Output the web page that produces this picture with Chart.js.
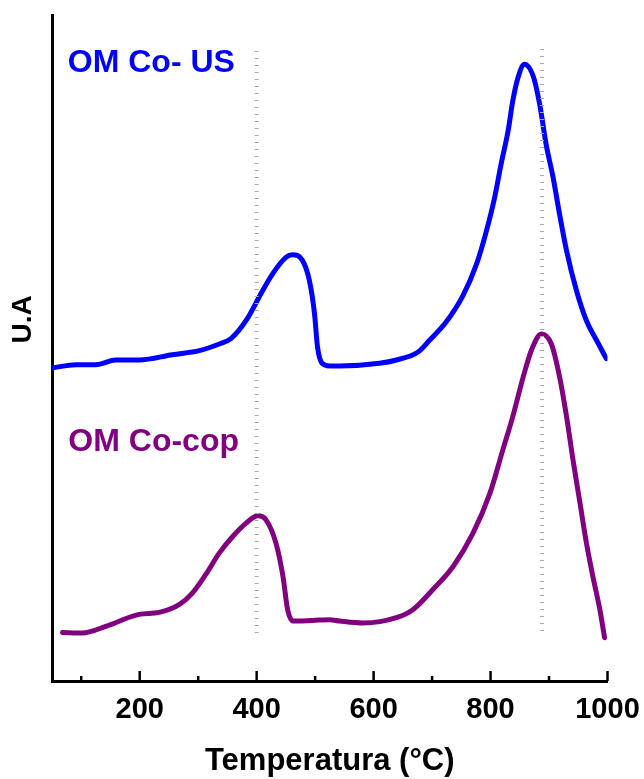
<!DOCTYPE html>
<html>
<head>
<meta charset="utf-8">
<script src="https://cdn.jsdelivr.net/npm/chart.js@4.4.1/dist/chart.umd.min.js"></script>
<style>
  html, body { margin: 0; padding: 0; background: #fff; }
  #box { width: 644px; height: 779px; }
</style>
</head>
<body>
<div id="box"><canvas id="grafico"></canvas></div>
<script>
// dati (temperatura in °C, segnale in unità arbitrarie)
const tempUS = [50, 91, 125, 159, 199, 256, 302, 336, 356, 384, 407, 427, 450, 461, 478, 490, 499, 504, 512, 525,
                542, 610, 639, 676, 696, 724, 753, 776, 793, 807, 818, 830, 838, 847, 858, 873, 884, 895, 907, 918,
                930, 947, 964, 981, 998];
const segnaleUS = [46.7, 47.2, 47.2, 47.9, 47.9, 48.7, 49.3, 50.3, 51.1, 54.1, 57.8, 60.8, 63.3, 63.7, 62.9, 59.9, 54.8, 49.9, 47.4, 47.0,
                   47.0, 47.4, 47.9, 49.1, 50.9, 53.6, 57.6, 62.3, 67.3, 72.3, 77.3, 82.3, 86.8, 90.3, 92.3, 90.5, 86.3, 80.3, 75.3, 69.8,
                   64.3, 58.3, 53.8, 50.9, 48.1];

const tempCop = [68, 102, 142, 199, 233, 268, 290, 313, 336, 359, 382, 402, 416, 433, 445, 453, 462, 496, 525, 542,
                 582, 639, 667, 701, 736, 770, 799, 821, 838, 856, 870, 887, 904, 918, 930, 941, 953, 964, 975, 987, 995];
const segnaleCop = [7.0, 6.9, 7.9, 9.7, 10.0, 11.2, 12.9, 15.7, 18.9, 21.4, 23.4, 24.5, 23.9, 20.4, 15.4, 10.4, 8.7, 8.8, 8.9, 8.7,
                    8.4, 9.2, 10.4, 13.4, 16.9, 21.9, 27.9, 34.4, 39.4, 45.4, 49.4, 51.8, 50.3, 45.4, 39.4, 32.9, 26.4, 20.4, 15.4, 10.4, 6.2];

// linee tratteggiate di riferimento
const rifTemp = [400, 888];
const rifAlto = [95.1, 95.5];
const rifBasso = [6.9, 7.2];

const tickX = [100, 200, 300, 400, 500, 600, 700, 800, 900, 1000];
const etichetteX = ['', '200', '', '400', '', '600', '', '800', '', '1000'];

const nomeUS = 'OM Co- US';
const nomeCop = 'OM Co-cop';
const titoloX = 'Temperatura (°C)';
const titoloY = 'U.A';

const FONT = "'Liberation Sans', Arial, sans-serif";

function punti(xs, ys) {
    return xs.map((x, i) => ({ x: x, y: ys[i] }));
}

const datasets = [];
rifTemp.forEach((t, i) => {
    datasets.push({
        data: [{ x: t, y: rifBasso[i] }, { x: t, y: rifAlto[i] }],
        borderColor: '#a8a8a8',
        borderWidth: 4,
        borderDash: [1, 6],
        pointRadius: 0,
        tension: 0
    });
});
datasets.push({
    label: nomeUS,
    data: punti(tempUS, segnaleUS),
    borderColor: '#0000ff',
    borderWidth: 5,
    borderCapStyle: 'round',
    borderJoinStyle: 'round',
    pointRadius: 0,
    cubicInterpolationMode: 'monotone'
});
datasets.push({
    label: nomeCop,
    data: punti(tempCop, segnaleCop),
    borderColor: '#800080',
    borderWidth: 5,
    borderCapStyle: 'round',
    borderJoinStyle: 'round',
    pointRadius: 0,
    cubicInterpolationMode: 'monotone'
});

// tacche verso l'interno, titolo Y ed etichette delle serie
const pluginDecori = {
    id: 'decori',
    afterDraw: (chart) => {
        const ctx = chart.ctx;
        const xAxis = chart.scales.x;
        const yAxis = chart.scales.y;
        const base = chart.chartArea.bottom;

        ctx.save();
        ctx.strokeStyle = '#000';
        ctx.lineWidth = 2.5;
        tickX.forEach((v, i) => {
            const px = xAxis.getPixelForValue(v);
            const lung = etichetteX[i] ? 10 : 5;
            ctx.beginPath();
            ctx.moveTo(px, base);
            ctx.lineTo(px, base - lung);
            ctx.stroke();
        });

        ctx.fillStyle = '#000';
        ctx.font = 'bold 28px ' + FONT;
        ctx.textAlign = 'center';
        ctx.textBaseline = 'middle';
        ctx.translate(23, yAxis.getPixelForValue(54));
        ctx.rotate(-Math.PI / 2);
        ctx.fillText(titoloY, 0, 0);
        ctx.restore();

        ctx.save();
        ctx.font = 'bold 32px ' + FONT;
        ctx.textAlign = 'left';
        ctx.textBaseline = 'alphabetic';
        ctx.fillStyle = '#0000ff';
        ctx.fillText(nomeUS, xAxis.getPixelForValue(77), yAxis.getPixelForValue(91.1));
        ctx.fillStyle = '#800080';
        ctx.fillText(nomeCop, xAxis.getPixelForValue(78), yAxis.getPixelForValue(34.2));
        ctx.restore();
    }
};

new Chart(document.getElementById('grafico'), {
    type: 'line',
    data: { datasets: datasets },
    options: {
        responsive: true,
        maintainAspectRatio: false,
        animation: false,
        layout: { padding: { top: 15, right: 36.5, left: 0, bottom: 0 } },
        plugins: {
            legend: { display: false },
            tooltip: { enabled: false }
        },
        scales: {
            x: {
                type: 'linear',
                min: 50,
                max: 1000,
                grid: { display: false },
                border: { display: true, color: '#000', width: 3 },
                afterBuildTicks: (scale) => { scale.ticks = tickX.map(v => ({ value: v })); },
                afterFit: (scale) => {
                    scale.height = 98;
                    scale.paddingLeft = 0;
                    scale.paddingRight = 0;
                },
                ticks: {
                    autoSkip: false,
                    maxRotation: 0,
                    padding: 4,
                    color: '#000',
                    font: { family: FONT, size: 29, weight: 'bold' },
                    callback: (v) => etichetteX[tickX.indexOf(v)] || ''
                },
                title: {
                    display: true,
                    text: titoloX,
                    color: '#000',
                    padding: { top: 0, bottom: 0 },
                    font: { family: FONT, size: 31, weight: 'bold', lineHeight: 1.1 }
                }
            },
            y: {
                min: -0.3,
                max: 99.7,
                grid: { display: false },
                border: { display: true, color: '#000', width: 3 },
                ticks: { display: false },
                afterFit: (scale) => { scale.width = 52; }
            }
        }
    },
    plugins: [pluginDecori]
});
</script>
</body>
</html>
